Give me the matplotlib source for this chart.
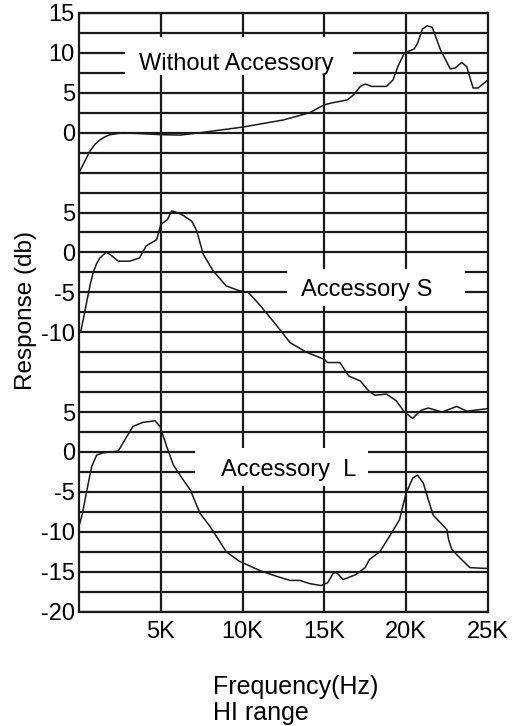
import numpy as np
import matplotlib
matplotlib.use("Agg")
import matplotlib.pyplot as plt
from matplotlib.patches import Rectangle

plt.rcParams['font.family'] = ['Liberation Sans', 'DejaVu Sans']

# frequency in kHz, response in dB (each curve on its own local scale)
freq_none = [0, 0.35, 0.67, 1.0, 1.28, 1.6, 1.9, 2.7, 5.0, 6.2, 7.4, 10.0, 12.5, 14.1, 15.0, 15.5, 16.4,
             16.8, 17.2, 17.5, 17.9, 18.8, 19.2, 19.5, 19.9, 20.5, 20.7, 21.0, 21.3, 21.6,
             22.1, 22.7, 23.0, 23.4, 23.7, 24.1, 24.4, 25.0]
resp_none = [-5.0, -3.6, -2.3, -1.4, -0.9, -0.5, -0.25, 0.0, -0.25, -0.3, 0.0, 0.7, 1.6, 2.5, 3.5, 3.75, 4.1,
             4.75, 5.8, 6.1, 5.8, 5.8, 6.6, 8.3, 10.0, 10.5, 11.2, 13.0, 13.4, 13.2,
             10.4, 8.0, 8.1, 8.8, 8.3, 5.6, 5.6, 6.6]

freq_s = [0.12, 0.3, 0.5, 0.7, 0.87, 1.08, 1.28, 1.65, 1.9, 2.4, 3.1, 3.7, 4.1, 4.75, 5.0, 5.4, 5.67, 6.0,
          6.4, 6.9, 7.2, 7.6, 8.2, 9.0, 9.8, 10.35, 11.1, 12.1, 12.9, 13.9, 15.0, 15.2,
          15.95, 16.5, 17.2, 17.6, 17.8, 18.1, 18.8, 19.4, 19.9, 20.4, 20.9, 21.35, 22.2,
          23.1, 23.7, 24.9]
resp_s = [-9.8, -8.0, -5.9, -3.9, -2.5, -1.4, -0.7, 0.0, -0.25, -1.1, -1.1, -0.7, 0.8, 1.6, 3.5, 4.1, 5.2, 5.0,
          4.6, 3.9, 2.7, -0.25, -2.3, -4.2, -4.8, -5.0, -6.7, -9.2, -11.3, -12.5, -13.4, -13.8,
          -13.8, -15.5, -16.1, -17.1, -17.5, -17.9, -17.75, -18.6, -20.0, -20.8, -19.8, -19.5,
          -20.0, -19.3, -19.9, -19.6]

freq_l = [0, 0.2, 0.37, 0.58, 0.78, 1.08, 1.5, 2.4, 2.8, 3.3, 3.9, 4.65, 4.95, 5.36, 5.76, 6.3, 6.8,
          7.4, 8.0, 9.0, 9.8, 11.1, 12.1, 12.9, 13.5, 14.1, 14.8, 15.2, 15.55, 15.75, 16.15,
          16.9, 17.5, 17.75, 18.4, 19.1, 19.6, 19.8, 20.0, 20.4, 20.7, 21.05, 21.65, 22.5,
          22.6, 22.8, 23.4, 23.9, 24.9]
resp_l = [-9.3, -7.8, -6.0, -3.8, -1.8, -0.4, -0.1, 0.1, 1.5, 3.2, 3.7, 3.9, 3.2, 0.7, -1.6, -3.3, -4.75,
          -7.7, -9.3, -12.5, -13.7, -14.9, -15.6, -16.1, -16.1, -16.5, -16.75, -16.4, -15.2,
          -15.1, -16.0, -15.4, -14.5, -13.5, -12.5, -10.2, -8.5, -6.8, -5.2, -3.3, -2.9,
          -3.9, -7.9, -9.75, -11.0, -12.25, -13.5, -14.5, -14.6]

# vertical offset of each panel on the shared axis
offsets = [0, -15, -40]
panel_ticks = [[15, 10, 5, 0], [5, 0, -5, -10], [5, 0, -5, -10, -15, -20]]
x_ticks = [5, 10, 15, 20, 25]
x_labels = ['5K', '10K', '15K', '20K', '25K']

fig = plt.figure(figsize=(5.32, 7.26), dpi=100)
ax = fig.add_axes([0.1485, 0.1577, 0.917 - 0.1485, 0.9821 - 0.1577])
ax.set_xlim(0, 25)
ax.set_ylim(-60, 15)

lw_grid = 1.6
for g in np.arange(-60, 15.01, 2.5):
    ax.axhline(g, color='#1a1a1a', lw=lw_grid, zorder=1)
for xv in x_ticks[:-1]:
    ax.axvline(xv, color='#1a1a1a', lw=lw_grid, zorder=1)
for s in ax.spines.values():
    s.set_linewidth(lw_grid)
    s.set_color('#1a1a1a')

# white label boxes break the grid
boxes = [(2.81, 7.25, 16.75 - 2.81, 12.0 - 7.25),
         (12.7, -21.75, 23.6 - 12.7, 4.65),
         (7.1, -44.25, 17.7 - 7.1, 4.75)]
for (x0, y0, w, h) in boxes:
    ax.add_patch(Rectangle((x0, y0), w, h, facecolor='white', edgecolor='none', zorder=2))

ax.text(9.6, 7.9, 'Without Accessory', fontsize=17, ha='center', va='baseline', zorder=3)
ax.text(17.6, -20.46, 'Accessory S', fontsize=17, ha='center', va='baseline', zorder=3)
ax.text(12.8, -42.96, 'Accessory  L', fontsize=17, ha='center', va='baseline', zorder=3)

curves = [(freq_none, resp_none), (freq_s, resp_s), (freq_l, resp_l)]
for (f, r), off in zip(curves, offsets):
    ax.plot(f, np.array(r) + off, color='#1a1a1a', lw=1.1, zorder=4)

yt, yl = [], []
for ticks, off in zip(panel_ticks, offsets):
    for t in ticks:
        yt.append(t + off)
        yl.append(str(t))
ax.set_yticks(yt)
ax.set_yticklabels(yl)
ax.set_xticks(x_ticks)
ax.set_xticklabels(x_labels)
ax.tick_params(axis='y', length=0, pad=3, labelsize=17)
ax.tick_params(axis='x', length=0, pad=7, labelsize=17)

fig.text(26 / 532, 1 - 310 / 726, 'Response (db)', rotation=90, fontsize=17.5,
         ha='center', va='center')
fig.text(213 / 532, 1 - 694 / 726, 'Frequency(Hz)', fontsize=18, ha='left', va='baseline')
fig.text(213 / 532, 1 - 720 / 726, 'HI range', fontsize=18, ha='left', va='baseline')

fig.savefig('out.png', dpi=100)
plt.close(fig)
